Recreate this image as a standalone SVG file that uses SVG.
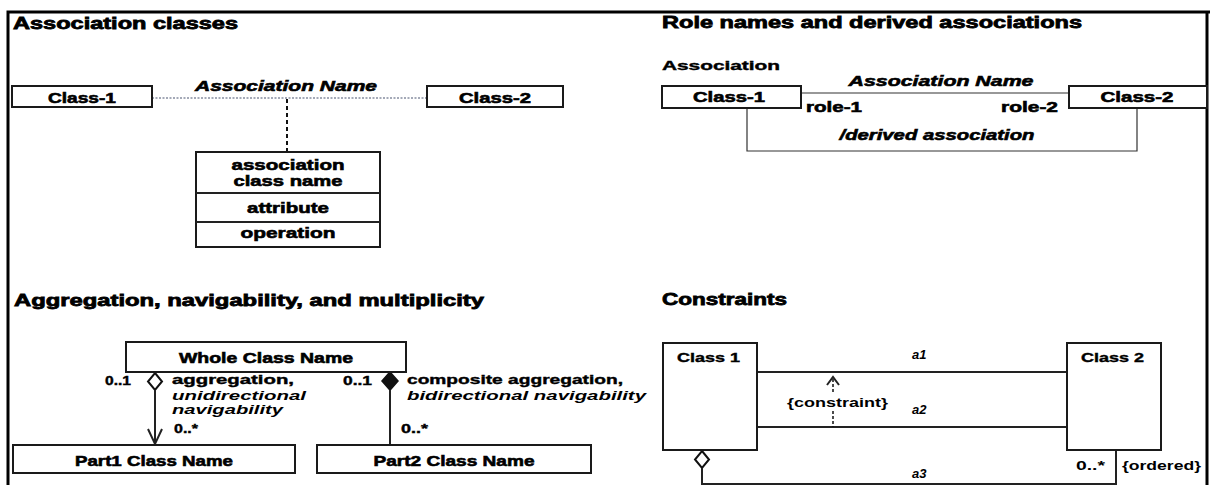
<svg xmlns="http://www.w3.org/2000/svg" width="1210" height="485" viewBox="0 0 1210 485">
<style>
.box{fill:#fff;stroke:#1a1a1a;stroke-width:2}
.ln{fill:none;stroke:#222;stroke-width:2}
.thin{fill:none;stroke:#333;stroke-width:1.2}
.frame{fill:none;stroke:#000;stroke-width:3}
text{font-family:"Liberation Sans",Arial,sans-serif;fill:#000}
.h{font-size:17px;font-weight:bold;stroke:#000;stroke-width:0.8}
.b{font-size:15px;font-weight:bold;stroke:#000;stroke-width:0.6}
.s{font-size:13px;font-weight:bold;stroke:#000;stroke-width:0.4}
.it{font-style:italic}
.l{font-size:13px;font-weight:bold}
.c{text-anchor:middle}
</style>
<rect width="1210" height="485" fill="#fff"/>
<path class="frame" d="M8 485V12H1210M1207 12V485"/>

<g id="titles">
<text class="h" x="13" y="29" textLength="225" lengthAdjust="spacingAndGlyphs">Association classes</text>
<text class="h" x="662" y="28" textLength="420" lengthAdjust="spacingAndGlyphs">Role names and derived associations</text>
<text class="s" x="662" y="70" textLength="118" lengthAdjust="spacingAndGlyphs">Association</text>
<text class="h" x="14" y="306" textLength="470" lengthAdjust="spacingAndGlyphs">Aggregation, navigability, and multiplicity</text>
<text class="h" x="662" y="305" textLength="125" lengthAdjust="spacingAndGlyphs">Constraints</text>
</g>

<g id="connectors">
<line x1="152" y1="98" x2="427" y2="98" stroke="#4a5570" stroke-width="1.2" stroke-dasharray="2 1.5"/>
<line x1="287" y1="99" x2="287" y2="152" stroke="#111" stroke-width="2" stroke-dasharray="4 3"/>
<text class="b it c" x="286" y="91" textLength="182" lengthAdjust="spacingAndGlyphs">Association Name</text>
<line class="thin" x1="801" y1="93" x2="1069" y2="93"/>
<text class="b it c" x="941" y="86" textLength="185" lengthAdjust="spacingAndGlyphs">Association Name</text>
<text class="b" x="806" y="112" textLength="56" lengthAdjust="spacingAndGlyphs">role-1</text>
<text class="b" x="1001" y="112" textLength="57" lengthAdjust="spacingAndGlyphs">role-2</text>
<path class="thin" d="M747 108V151H1137V108"/>
<text class="b it c" x="937" y="140" textLength="195" lengthAdjust="spacingAndGlyphs">/derived association</text>
<path d="M155 373L162 381.5L155 390L148 381.5Z" fill="#fff" stroke="#111" stroke-width="2"/>
<line class="ln" x1="155" y1="390" x2="155" y2="444"/>
<path class="ln" d="M148 429L155 444L162 429"/>
<text class="s" x="105" y="385" textLength="26" lengthAdjust="spacingAndGlyphs">0..1</text>
<text class="s" x="172" y="384" textLength="122" lengthAdjust="spacingAndGlyphs">aggregation,</text>
<text class="l it" x="172" y="400" textLength="134" lengthAdjust="spacingAndGlyphs">unidirectional</text>
<text class="l it" x="172" y="414" textLength="111" lengthAdjust="spacingAndGlyphs">navigability</text>
<text class="s" x="174" y="433" textLength="24" lengthAdjust="spacingAndGlyphs">0..*</text>
<path d="M390 372L398 381L390 390L382 381Z" fill="#111" stroke="#111" stroke-width="1.5"/>
<line class="ln" x1="390" y1="390" x2="390" y2="445"/>
<text class="s" x="343" y="385" textLength="29" lengthAdjust="spacingAndGlyphs">0..1</text>
<text class="s" x="407" y="384" textLength="216" lengthAdjust="spacingAndGlyphs">composite aggregation,</text>
<text class="l it" x="407" y="400" textLength="239" lengthAdjust="spacingAndGlyphs">bidirectional navigability</text>
<text class="s" x="401" y="433" textLength="27" lengthAdjust="spacingAndGlyphs">0..*</text>
<line class="ln" x1="757" y1="372" x2="1067" y2="372"/>
<line class="ln" x1="757" y1="427" x2="1067" y2="427"/>
<text class="l it" x="912" y="359">a1</text>
<text class="l it" x="912" y="414">a2</text>
<path class="ln" d="M827 385L833 377L839 385"/>
<line x1="833" y1="379" x2="833" y2="393" stroke="#111" stroke-width="1.5" stroke-dasharray="3 2"/>
<line x1="833" y1="411" x2="833" y2="427" stroke="#111" stroke-width="1.5" stroke-dasharray="3 2"/>
<text class="l" x="787" y="407" textLength="101" lengthAdjust="spacingAndGlyphs">{constraint}</text>
<path d="M702 451L709 459.5L702 468L695 459.5Z" fill="#fff" stroke="#111" stroke-width="2"/>
<line class="ln" x1="702" y1="468" x2="702" y2="485"/>
<line class="ln" x1="702" y1="484" x2="1116" y2="484"/>
<text class="l it" x="912" y="478">a3</text>
<line class="ln" x1="1116" y1="450" x2="1116" y2="485"/>
<text class="l" x="1076" y="470" textLength="29" lengthAdjust="spacingAndGlyphs">0..*</text>
<text class="l" x="1122" y="470" textLength="79" lengthAdjust="spacingAndGlyphs">{ordered}</text>
</g>

<g id="ac-class1">
<rect class="box" x="12" y="86" width="140" height="21"/>
<text class="b c" x="82" y="103" textLength="68" lengthAdjust="spacingAndGlyphs">Class-1</text>
</g>
<g id="ac-class2">
<rect class="box" x="427" y="86" width="136" height="21"/>
<text class="b c" x="495" y="103" textLength="72" lengthAdjust="spacingAndGlyphs">Class-2</text>
</g>
<g id="association-class">
<rect class="box" x="196" y="152" width="184" height="95"/>
<line class="ln" x1="196" y1="193" x2="380" y2="193"/>
<line class="ln" x1="196" y1="222" x2="380" y2="222"/>
<text class="b c" x="288" y="170" textLength="113" lengthAdjust="spacingAndGlyphs">association</text>
<text class="b c" x="288" y="186" textLength="109" lengthAdjust="spacingAndGlyphs">class name</text>
<text class="b c" x="288" y="213" textLength="82" lengthAdjust="spacingAndGlyphs">attribute</text>
<text class="b c" x="288" y="238" textLength="95" lengthAdjust="spacingAndGlyphs">operation</text>
</g>

<g id="rn-class1">
<rect class="box" x="662" y="86" width="139" height="22"/>
<text class="b c" x="729" y="102" textLength="72" lengthAdjust="spacingAndGlyphs">Class-1</text>
</g>
<g id="rn-class2">
<rect class="box" x="1069" y="86" width="138" height="22"/>
<text class="b c" x="1137" y="102" textLength="73" lengthAdjust="spacingAndGlyphs">Class-2</text>
</g>

<g id="whole">
<rect class="box" x="126" y="342" width="280" height="30"/>
<text class="b c" x="266" y="363" textLength="174" lengthAdjust="spacingAndGlyphs">Whole Class Name</text>
</g>
<g id="part1">
<rect class="box" x="13" y="445" width="282" height="28"/>
<text class="b c" x="154" y="466" textLength="158" lengthAdjust="spacingAndGlyphs">Part1 Class Name</text>
</g>
<g id="part2">
<rect class="box" x="317" y="445" width="274" height="28"/>
<text class="b c" x="454" y="466" textLength="161" lengthAdjust="spacingAndGlyphs">Part2 Class Name</text>
</g>

<g id="c-class1">
<rect class="box" x="663" y="343" width="94" height="107"/>
<text class="s" x="677" y="362" textLength="63" lengthAdjust="spacingAndGlyphs">Class 1</text>
</g>
<g id="c-class2">
<rect class="box" x="1067" y="343" width="94" height="107"/>
<text class="s" x="1081" y="362" textLength="63" lengthAdjust="spacingAndGlyphs">Class 2</text>
</g>
</svg>
